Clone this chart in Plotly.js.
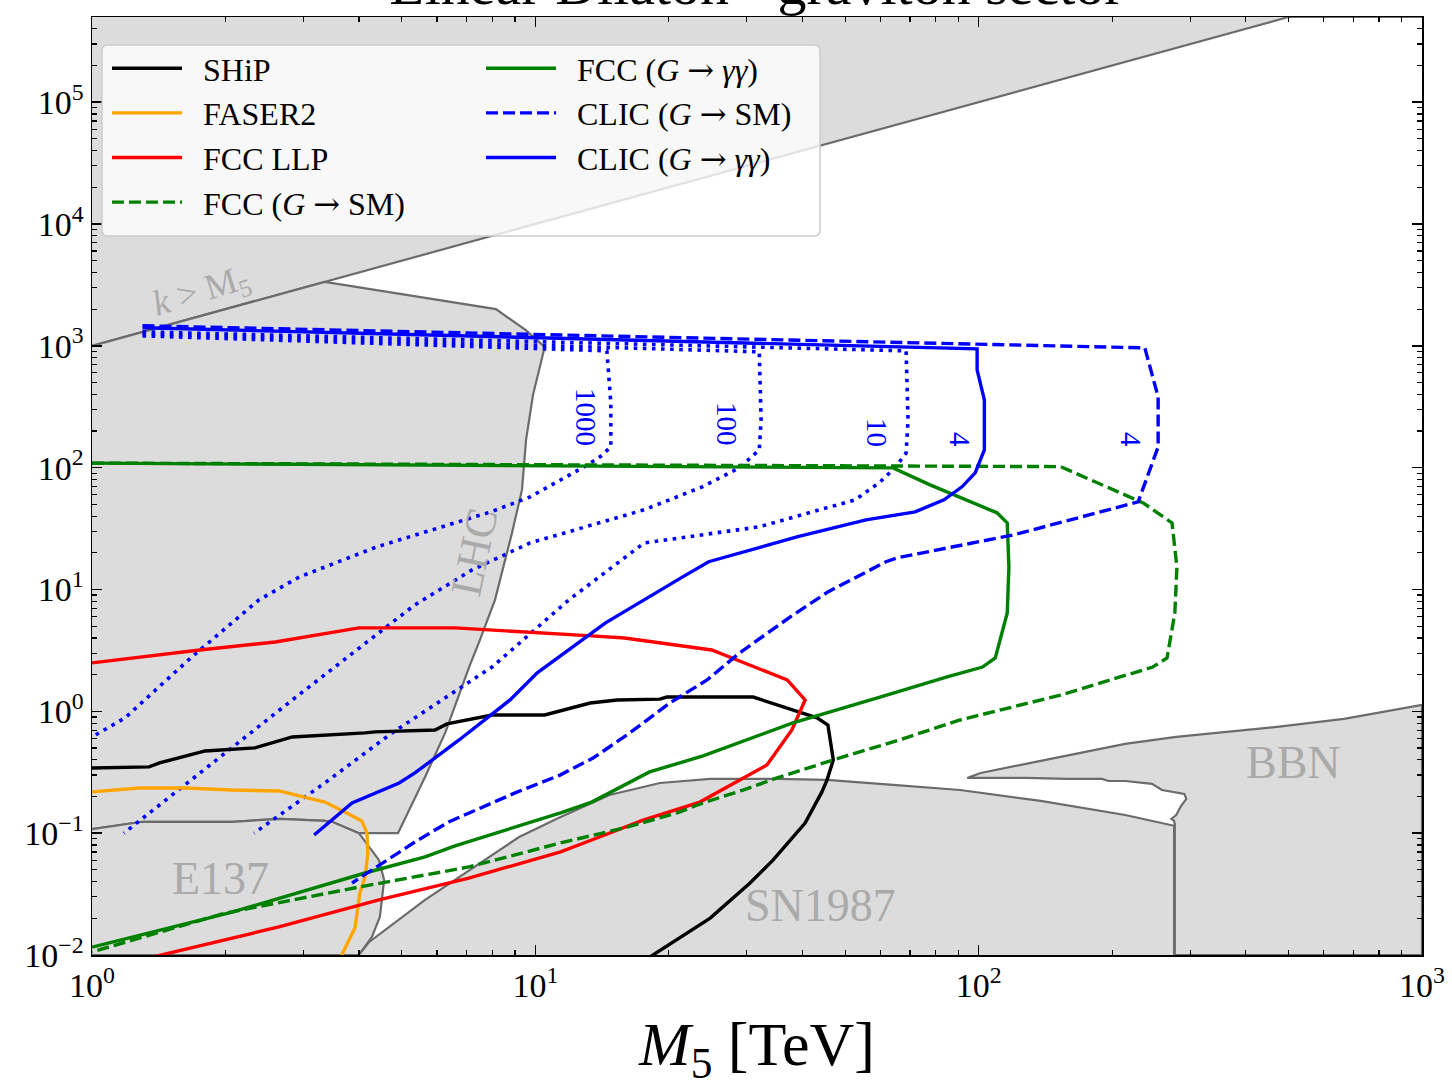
<!DOCTYPE html>
<html>
<head>
<meta charset="utf-8">
<script src="https://cdn.plot.ly/plotly-3.0.1.min.js"></script>
<style>html,body{margin:0;padding:0;background:#fff;}#chart{width:1452px;height:1088px;}</style>
</head>
<body>
<div id="chart"></div>
<script>
// ---------- tick labels ----------
const xTickVals = [1, 10, 100, 1000];
const xTickText = ['10<sup>0</sup>', '10<sup>1</sup>', '10<sup>2</sup>', '10<sup>3</sup>'];
const yTickVals = [0.01, 0.1, 1, 10, 100, 1000, 1e4, 1e5];
const yTickText = ['10<sup>\u22122</sup>', '10<sup>\u22121</sup>', '10<sup>0</sup>', '10<sup>1</sup>',
                   '10<sup>2</sup>', '10<sup>3</sup>', '10<sup>4</sup>', '10<sup>5</sup>'];

// ---------- excluded regions (M5 [TeV], k [GeV]) ----------
const kM5X = [1, 500, 1000, 1000, 1];
const kM5Y = [1000, 5e5, 5e5, 1e6, 1e6];

const lhcX = [1, 3.35, 8.15, 9.5, 10.5, 10.25, 9.88, 9.53, 9.33, 8.86, 8.11, 7.5, 7.09, 6.26, 5.64, 4.9, 4.0, 3.48, 3.35, 2.66, 2.07, 1.30, 1];
const lhcY = [1000, 3350, 2000, 1350, 980, 698, 396, 169, 65.7, 29.2, 8.22, 3.86, 2.31, 0.665, 0.289, 0.1, 0.1, 0.124, 0.126, 0.131, 0.124, 0.124, 0.108];

const e137X = [1, 1.30, 2.07, 2.66, 3.35, 3.48, 4.0, 4.22, 4.44, 4.56, 4.46, 4.28, 4.0, 1];
const e137Y = [0.108, 0.124, 0.124, 0.131, 0.126, 0.124, 0.1, 0.077, 0.060, 0.0413, 0.0205, 0.0141, 0.01, 0.01];

const sn1987X = [4.0, 4.22, 5.64, 9.19, 11.4, 14.7, 19.1, 24.8, 35.1, 45.5, 64.1, 90.8, 138, 214, 276, 276];
const sn1987Y = [0.01, 0.0128, 0.0283, 0.093, 0.136, 0.206, 0.258, 0.279, 0.279, 0.274, 0.249, 0.226, 0.184, 0.141, 0.115, 0.01];

const bbnX = [94.2, 101, 138, 214, 279, 471, 667, 1000, 1000, 277, 277, 276, 272, 279, 286, 294, 291, 259, 246, 214, 196, 190, 159, 127, 94.2];
const bbnY = [0.284, 0.312, 0.392, 0.54, 0.617, 0.745, 0.867, 1.13, 0.01, 0.01, 0.117, 0.126, 0.131, 0.141, 0.167, 0.191, 0.21, 0.226, 0.254, 0.268, 0.268, 0.279, 0.279, 0.284, 0.284];

// ---------- sensitivity curves ----------
const shipX = [1, 1.345, 1.42, 1.80, 2.33, 2.83, 4.13, 4.35, 5.94, 6.32, 7.99, 10.5, 13.3, 15.3, 19.1, 19.8, 31.0, 38.1, 43.2, 45.7, 46.0, 47.0, 45.5, 44.3, 40.6, 34.4, 30.5, 24.8, 18.1];
const shipY = [0.343, 0.35, 0.377, 0.473, 0.501, 0.616, 0.665, 0.678, 0.703, 0.789, 0.933, 0.933, 1.17, 1.24, 1.26, 1.31, 1.31, 1.03, 0.883, 0.773, 0.665, 0.399, 0.274, 0.218, 0.121, 0.0603, 0.039, 0.0201, 0.0096];

const faserX = [1, 1.276, 1.62, 2.07, 2.64, 3.02, 3.35, 3.72, 4.06, 4.17, 4.19, 4.13, 4.02, 3.92, 3.63];
const faserY = [0.218, 0.235, 0.235, 0.226, 0.222, 0.198, 0.18, 0.149, 0.126, 0.1, 0.0687, 0.0437, 0.0323, 0.0167, 0.00945];

const llpX = [1, 1.75, 2.59, 4.0, 6.59, 9.73, 13.4, 15.9, 25.0, 37.0, 40.6, 37.9, 33.3, 23.5, 17.5, 13.4, 11.4, 7.08, 4.44, 2.64, 1.366];
const llpY = [2.50, 3.19, 3.71, 4.84, 4.84, 4.49, 4.16, 4.0, 3.19, 1.81, 1.24, 0.703, 0.363, 0.18, 0.128, 0.0879, 0.0702, 0.0428, 0.0283, 0.017, 0.0096];

const fccSmX = [1, 153, 235, 273, 280, 277, 266, 247, 153, 90.8, 64.1, 49.4, 35.1, 29.4, 23.9, 20.9, 16.1, 11.4, 7.08, 4.0, 2.0, 1];
const fccSmY = [109, 102, 51.4, 35.2, 15.3, 6.42, 2.74, 2.31, 1.36, 0.849, 0.561, 0.423, 0.284, 0.226, 0.177, 0.147, 0.112, 0.0831, 0.0528, 0.0361, 0.0221, 0.0106];

const fccAAX = [1, 64.1, 77.7, 110, 116, 117, 116, 109, 102, 84.9, 59.9, 47.0, 38.1, 23.9, 18.1, 13.4, 11.4, 6.59, 5.64, 4.13, 2.07, 1];
const fccAAY = [109, 99.6, 72.2, 42.6, 35.2, 15.3, 6.42, 2.74, 2.31, 1.92, 1.31, 1.0, 0.804, 0.431, 0.318, 0.18, 0.147, 0.0785, 0.0638, 0.0471, 0.0225, 0.0116];

const clicSmX = [1.30, 237, 254, 254, 229, 120, 65.5, 61.8, 45.7, 37.6, 28.9, 24.4, 20.1, 16.1, 13.5, 11.4, 9.0, 6.39, 5.35, 4.51, 3.86];
const clicSmY = [1460, 963, 381, 148, 52.4, 28.1, 18.2, 16.9, 9.55, 5.96, 3.02, 1.81, 1.17, 0.64, 0.414, 0.301, 0.214, 0.124, 0.0847, 0.0569, 0.039];

const clicAAX = [1.30, 99.2, 99.2, 103, 103, 98.2, 91.7, 83.5, 71.9, 55.7, 38.9, 24.6, 21.5, 14.4, 10.1, 8.77, 6.73, 5.35, 4.93, 3.86, 3.17];
const clicAAY = [1406, 945, 635, 360, 140, 90.6, 69.6, 54.4, 43.4, 37.3, 27.0, 16.9, 12.7, 5.32, 2.07, 1.24, 0.582, 0.312, 0.258, 0.177, 0.0966];

// CLIC (G -> gamma gamma) contours for higher luminosity factors
const c10X = [1.30, 68.6, 69.3, 68.6, 64.8, 59.6, 52.6, 32.0, 17.6, 11.9, 7.99, 4.75, 3.35, 2.32];
const c10Y = [1303, 910, 247, 132, 100, 75, 54.4, 32.7, 24.1, 8.22, 2.31, 0.665, 0.258, 0.1];

const c100X = [1.30, 32.0, 32.3, 32.0, 28.9, 23.8, 17.6, 9.73, 7.2, 5.35, 2.83, 1.68, 1.18];
const c100Y = [1255, 893, 247, 140, 100, 69.6, 45.1, 24.1, 14.5, 7.48, 1.24, 0.274, 0.1];

const c1000X = [1.30, 14.5, 14.8, 14.8, 14.0, 13.1, 9.73, 7.94, 4.39, 2.94, 2.38, 1.68, 1.187, 1];
const c1000Y = [1208, 910, 340, 148, 123, 105, 57.5, 43.4, 22.4, 12.7, 8.22, 2.80, 0.883, 0.616];

const contourLabels = ['1000', '100', '10', '4', '4'];
const regionLabels = ['E137', 'SN1987', 'BBN', 'LHC'];

// ---------- styling ----------
const SERIF = 'Liberation Serif, DejaVu Serif, serif';
const GRAYFILL = '#dcdcdc';
const GRAYEDGE = '#6b6b6b';
const LABELGRAY = '#aaaaaa';
const ARROW = '<span style="font-family:DejaVu Serif">\u2192</span>';
const GAP = '\u2002';

function region(x, y) {
  return {x: x, y: y, type: 'scatter', mode: 'lines', fill: 'toself', fillcolor: GRAYFILL,
          line: {color: GRAYEDGE, width: 2.2}, showlegend: false, hoverinfo: 'skip'};
}
function curve(x, y, name, color, dash, legend) {
  return {x: x, y: y, type: 'scatter', mode: 'lines', name: GAP + name,
          line: {color: color, width: 3.4, dash: dash}, legend: legend, legendgroup: name,
          showlegend: true, hoverinfo: 'skip'};
}
function contour(x, y) {
  return {x: x, y: y, type: 'scatter', mode: 'lines', showlegend: false, hoverinfo: 'skip',
          line: {color: '#0000ff', width: 3.6, dash: '3.6px,5.5px'}};
}

const traces = [
  region(kM5X, kM5Y), region(lhcX, lhcY), region(e137X, e137Y), region(sn1987X, sn1987Y), region(bbnX, bbnY),
  contour(c1000X, c1000Y), contour(c100X, c100Y), contour(c10X, c10Y),
  curve(shipX, shipY, 'SHiP', '#000000', 'solid', 'legend'),
  curve(faserX, faserY, 'FASER2', '#ffa500', 'solid', 'legend'),
  curve(llpX, llpY, 'FCC LLP', '#ff0000', 'solid', 'legend'),
  curve(fccSmX, fccSmY, 'FCC (<i>G</i> ' + ARROW + ' SM)', '#008000', '12px,5px', 'legend'),
  curve(fccAAX, fccAAY, 'FCC (<i>G</i> ' + ARROW + ' <i>\u03b3\u03b3</i>)', '#008000', 'solid', 'legend2'),
  curve(clicSmX, clicSmY, 'CLIC (<i>G</i> ' + ARROW + ' SM)', '#0000ff', '12px,5px', 'legend2'),
  curve(clicAAX, clicAAY, 'CLIC (<i>G</i> ' + ARROW + ' <i>\u03b3\u03b3</i>)', '#0000ff', 'solid', 'legend2')
];

// paper-coordinate helpers (plot area: x 92..1422, y 17..955 px)
const px = v => (v - 92) / 1330;
const py = v => (955 - v) / 938;

const annotations = [
  {x: px(220), y: py(878), text: regionLabels[0], size: 46, angle: 0, color: LABELGRAY},
  {x: px(820), y: py(905), text: regionLabels[1], size: 46, angle: 0, color: LABELGRAY},
  {x: px(1293), y: py(762), text: regionLabels[2], size: 46, angle: 0, color: LABELGRAY},
  {x: px(474), y: py(552), text: regionLabels[3], size: 44, angle: -78, color: LABELGRAY},
  {x: px(201), y: py(292), text: '<i>k</i> > M<sub>5</sub>', size: 36, angle: -17, color: LABELGRAY},
  {x: px(586), y: py(417), text: contourLabels[0], size: 29, angle: 90, color: '#0000ff'},
  {x: px(727), y: py(424), text: contourLabels[1], size: 29, angle: 90, color: '#0000ff'},
  {x: px(877), y: py(432), text: contourLabels[2], size: 29, angle: 90, color: '#0000ff'},
  {x: px(960), y: py(439), text: contourLabels[3], size: 29, angle: 90, color: '#0000ff'},
  {x: px(1131), y: py(439), text: contourLabels[4], size: 29, angle: 90, color: '#0000ff'}
].map(a => ({xref: 'paper', yref: 'paper', x: a.x, y: a.y, text: a.text, showarrow: false,
             textangle: a.angle, xanchor: 'center', yanchor: 'middle',
             font: {family: SERIF, size: a.size, color: a.color}}));

// legend frame (rounded rectangle, paper coords)
const lx0 = px(102), lx1 = px(820), ly0 = py(236), ly1 = py(45);
const rx = 6 / 1330, ry = 6 / 938;
const legendFrame = {
  type: 'path', xref: 'paper', yref: 'paper', layer: 'above',
  path: `M${lx0 + rx},${ly0} L${lx1 - rx},${ly0} Q${lx1},${ly0} ${lx1},${ly0 + ry} L${lx1},${ly1 - ry} Q${lx1},${ly1} ${lx1 - rx},${ly1} L${lx0 + rx},${ly1} Q${lx0},${ly1} ${lx0},${ly1 - ry} L${lx0},${ly0 + ry} Q${lx0},${ly0} ${lx0 + rx},${ly0} Z`,
  fillcolor: 'rgba(255,255,255,0.8)', line: {color: '#cccccc', width: 1.5}
};

function minorDecades(from, to, maxVal) {
  const out = [];
  for (let d = from; d <= to; d++) for (let m = 2; m <= 9; m++) {
    const v = m * Math.pow(10, d);
    if (v <= maxVal) out.push(v);
  }
  return out;
}

const axisCommon = {
  type: 'log', showgrid: false, zeroline: false, showline: true, linecolor: '#000', linewidth: 1.5,
  mirror: 'allticks', ticks: 'inside', ticklen: 10, tickwidth: 1.5, tickcolor: '#000',
  tickmode: 'array', tickfont: {family: SERIF, size: 34, color: '#000'}
};

const legendCommon = {
  bgcolor: 'rgba(0,0,0,0)', borderwidth: 0, orientation: 'v', xanchor: 'left', yanchor: 'top',
  font: {family: SERIF, size: 32, color: '#000'}, itemwidth: 70, tracegroupgap: 0, traceorder: 'grouped'
};

const layout = {
  width: 1452, height: 1088,
  margin: {l: 92, r: 30, t: 17, b: 133, pad: 0},
  paper_bgcolor: '#ffffff', plot_bgcolor: '#ffffff',
  title: {text: 'Linear Dilaton - graviton sector', x: 0.521, xanchor: 'center',
          y: 1 - 4 / 1088, yanchor: 'bottom', yref: 'container',
          font: {family: SERIF, size: 58, color: '#000'}},
  xaxis: Object.assign({}, axisCommon, {
    range: [0, 3], tickvals: xTickVals, ticktext: xTickText,
    minor: {tickmode: 'array', tickvals: minorDecades(0, 2, 1000), ticks: 'inside', ticklen: 5, tickwidth: 1.2, tickcolor: '#000', showgrid: false},
    title: {text: '<i>M</i><sub>5</sub> [TeV]', font: {family: SERIF, size: 62, color: '#000'}, standoff: 18}
  }),
  yaxis: Object.assign({}, axisCommon, {
    range: [-2, Math.log10(5e5)], tickvals: yTickVals, ticktext: yTickText,
    minor: {tickmode: 'array', tickvals: minorDecades(-2, 5, 5e5), ticks: 'inside', ticklen: 5, tickwidth: 1.2, tickcolor: '#000', showgrid: false}
  }),
  showlegend: true,
  legend: Object.assign({}, legendCommon, {x: px(107), y: py(41)}),
  legend2: Object.assign({}, legendCommon, {x: px(481), y: py(41)}),
  shapes: [legendFrame],
  annotations: annotations,
  hovermode: false
};

Plotly.newPlot('chart', traces, layout, {staticPlot: true, displayModeBar: false});
</script>
</body>
</html>
